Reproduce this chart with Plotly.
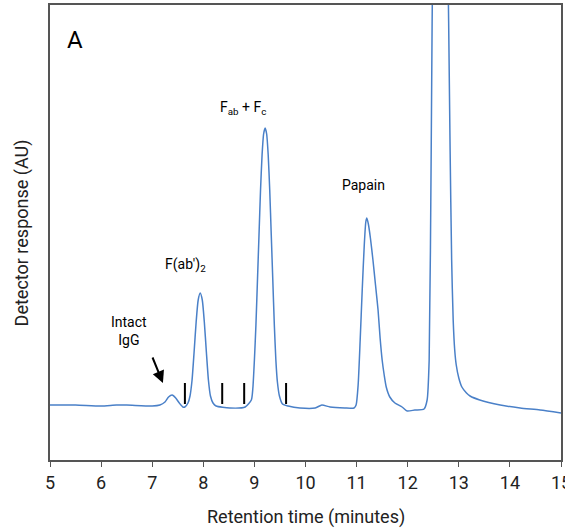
import plotly.graph_objects as go

# chromatogram trace (minutes, detector response)
time_min = [5.0, 5.5, 6.0, 6.3, 6.5, 7.0, 7.15,
            7.25, 7.32, 7.39, 7.46, 7.53, 7.60, 7.64,
            7.70, 7.74, 7.78, 7.82, 7.86, 7.90, 7.94, 7.98, 8.02, 8.06, 8.10, 8.14,
            8.19, 8.25, 8.52, 8.82,
            8.94, 8.97, 9.00, 9.03, 9.06, 9.09, 9.12, 9.15, 9.18, 9.21, 9.24, 9.27,
            9.30, 9.33, 9.36, 9.39, 9.42, 9.45, 9.49, 9.55, 9.66,
            9.89, 10.19, 10.32, 10.48, 10.77, 10.95,
            10.99, 11.03, 11.07, 11.11, 11.15, 11.18, 11.20, 11.23, 11.27, 11.32,
            11.37, 11.42, 11.46, 11.50, 11.54, 11.58, 11.65, 11.75, 11.89,
            11.99, 12.14, 12.32, 12.38, 12.42, 12.46, 12.50,
            12.63, 12.77, 12.83, 12.86, 12.89, 12.92, 12.95, 13.00, 13.06, 13.15,
            13.22, 13.41, 13.81, 14.20, 14.59, 15.0]
response = [55, 55, 54, 55, 55, 54, 55,
            58, 63, 65, 62, 57, 53, 53,
            57, 64, 80, 108, 138, 160, 167, 160, 138, 108, 80, 64,
            57, 54, 52, 53,
            60, 72, 100, 135, 180, 225, 270, 305, 326, 332, 326, 305,
            270, 225, 180, 135, 100, 78, 64, 56, 54,
            52, 52, 55, 53, 52, 52,
            55, 75, 120, 170, 215, 238, 242, 236, 222, 200,
            175, 150, 122, 100, 85, 73, 63, 57, 53,
            49, 50, 51, 60, 100, 310, 560,
            860, 560, 310, 200, 140, 110, 95, 82, 73, 67,
            64, 60, 55, 52, 50, 47]

# fraction collection marks
cut_times = [7.64, 8.37, 8.80, 9.62]
cut_low, cut_high = 56, 77

font_fam = "Roboto, Liberation Sans, sans-serif"
line_col = "#4a80c8"

fig = go.Figure()
fig.add_trace(go.Scatter(x=time_min, y=response, mode="lines", line_shape="spline",
                         line=dict(color=line_col, width=1.5, smoothing=0.6),
                         showlegend=False))

for t in cut_times:
    fig.add_shape(type="line", x0=t, x1=t, y0=cut_low, y1=cut_high,
                  line=dict(color="black", width=2))

labels = [
    dict(x=5.49, y=420, text="A", size=24),
    dict(x=8.78, y=352, text="F<sub>ab</sub> + F<sub>c</sub>", size=14),
    dict(x=7.66, y=195, text="F(ab')<sub>2</sub>", size=14),
    dict(x=6.55, y=129, text="Intact<br>IgG", size=14),
    dict(x=11.13, y=275, text="Papain", size=14),
]
for lab in labels:
    fig.add_annotation(x=lab["x"], y=lab["y"], text=lab["text"], showarrow=False,
                       font=dict(size=lab["size"], color="black", family=font_fam))

fig.add_annotation(x=7.21, y=77, ax=-11, ay=-27, text="", showarrow=True,
                   arrowhead=2, arrowsize=1.2, arrowwidth=2, arrowcolor="black")

# axis titles
fig.add_annotation(x=0.5, y=-0.125, xref="paper", yref="paper", text="Retention time (minutes)",
                   xanchor="center", yanchor="middle",
                   showarrow=False, font=dict(size=18, color="#222", family=font_fam))
fig.add_annotation(x=-0.055, y=0.5, xref="paper", yref="paper", text="Detector response (AU)",
                   xanchor="center", yanchor="middle",
                   textangle=-90, showarrow=False, font=dict(size=18, color="#222", family=font_fam))

fig.update_layout(
    width=565, height=529,
    margin=dict(l=50, r=4, t=5, b=69),
    plot_bgcolor="white", paper_bgcolor="white",
    font=dict(family=font_fam, color="#222", size=17),
)
fig.update_xaxes(range=[5, 15], dtick=1, showgrid=False, zeroline=False, automargin=False,
                 showline=True, linecolor="#555", linewidth=2, mirror=True,
                 ticks="outside", ticklen=5, tickcolor="#555",
                 ticklabeloverflow="allow", tickfont=dict(size=18))
fig.update_yaxes(range=[0, 455], showgrid=False, zeroline=False, showticklabels=False,
                 automargin=False,
                 showline=True, linecolor="#555", linewidth=2, mirror=True)

fig.write_html("out.html", config={"displayModeBar": False},
               post_script="document.body.style.margin='0px';")
